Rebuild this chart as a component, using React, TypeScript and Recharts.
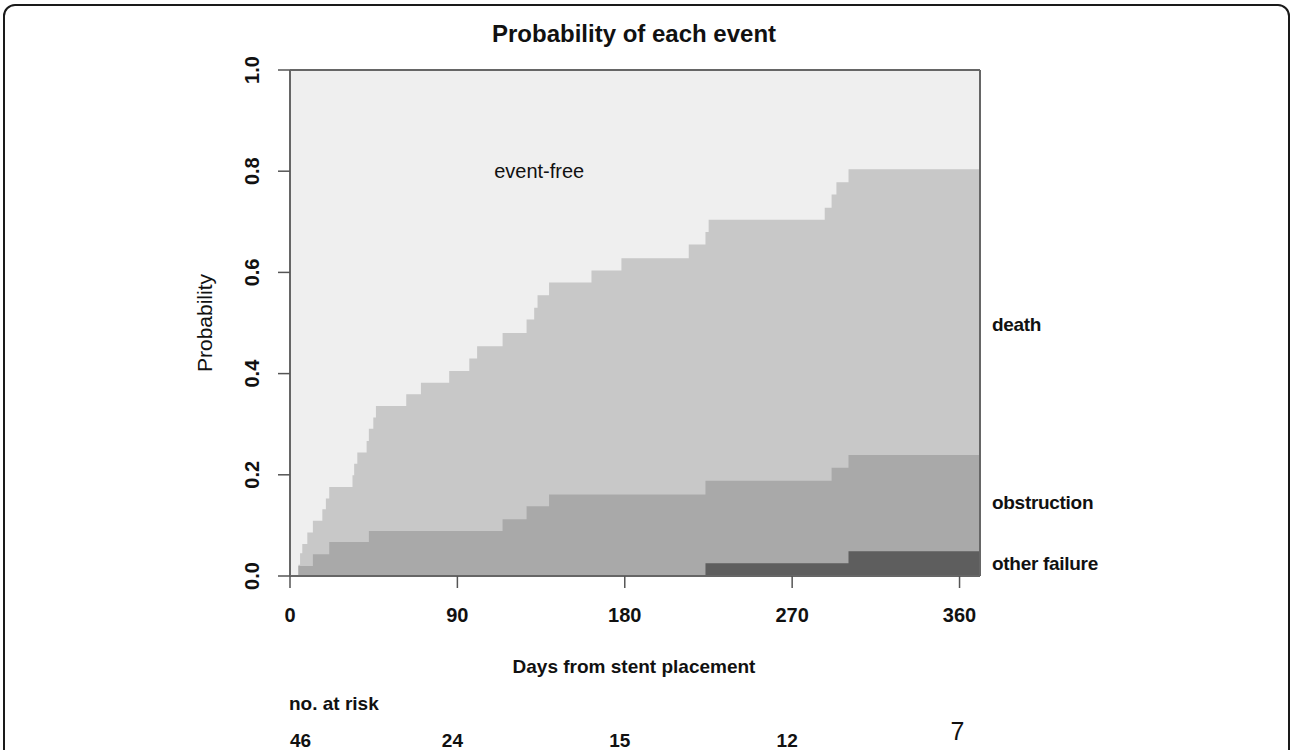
import React from 'react';
import { AreaChart, Area, XAxis, YAxis, ReferenceLine, ReferenceDot } from 'recharts';

// Stacked cumulative incidence, upper edge of each band
const otherDays = [0, 223.4, 300.3];
const otherTop = [0, 0.025, 0.049];

const obstructionDays = [0, 4.5, 12.3, 21.1, 42.4, 114.3, 127.2, 139.3, 223.4, 291.2, 300.3];
const obstructionTop = [0, 0.02, 0.043, 0.067, 0.089, 0.112, 0.138, 0.161, 0.188, 0.214, 0.239];

const deathDays = [
  0, 4.5, 5.4, 6.6, 9.3, 12.3, 17.4, 19.3, 21.1, 33.6, 34.5, 36.2, 41.2, 42.4, 44.8, 46.2, 62.5,
  70.4, 85.6, 96.4, 100.6, 114.3, 127.2, 131.3, 133.1, 139.3, 162.1, 178.2, 214.4, 223.4, 225.1,
  287.5, 291.2, 293.8, 300.3,
];
const deathTop = [
  0, 0.022, 0.045, 0.063, 0.086, 0.109, 0.132, 0.153, 0.176, 0.199, 0.222, 0.244, 0.267, 0.291,
  0.313, 0.336, 0.359, 0.382, 0.405, 0.43, 0.454, 0.48, 0.507, 0.53, 0.555, 0.58, 0.604, 0.628,
  0.655, 0.68, 0.704, 0.728, 0.754, 0.778, 0.804,
];

const dayTicks = [0, 90, 180, 270, 360];
const atRisk = [46, 24, 15, 12, 7];
const probTicks = [0, 0.2, 0.4, 0.6, 0.8, 1];
const endLabels = ['other failure', 'obstruction', 'death'];
const endLabelAt = [0.025, 0.145, 0.497];

const X_MAX = 371;
const FONT = '"Liberation Sans", Arial, Helvetica, sans-serif';
const INK = '#111';
const FRAME = '#666';

function stepValue(days: number[], vals: number[], t: number): number {
  let v = vals[0];
  for (let i = 0; i < days.length; i++) if (days[i] <= t) v = vals[i];
  return v;
}

const allDays = Array.from(new Set([...otherDays, ...obstructionDays, ...deathDays, X_MAX])).sort(
  (a, b) => a - b
);
const rows = allDays.map((day) => ({
  day,
  eventFree: 1,
  death: stepValue(deathDays, deathTop, day),
  obstruction: stepValue(obstructionDays, obstructionTop, day),
  other: stepValue(otherDays, otherTop, day),
}));

type TickProps = { x?: number; y?: number; index?: number; payload?: { value: number } };

function DayTick({ x = 0, y = 0, payload }: TickProps) {
  return (
    <text x={x} y={y + 34} textAnchor="middle" fontFamily={FONT} fontWeight={700} fontSize={20} fill={INK}>
      {payload?.value}
    </text>
  );
}

function RiskTick({ x = 0, y = 0, index = 0 }: TickProps) {
  const last = index === atRisk.length - 1;
  return (
    <text
      x={index === 0 ? x : last ? x - 2 : x - 5}
      y={last ? y + 54 : y + 61}
      textAnchor={index === 0 ? 'start' : 'middle'}
      fontFamily={FONT}
      fontWeight={last ? 400 : 700}
      fontSize={last ? 25 : 19}
      fill={INK}
    >
      {atRisk[index]}
    </text>
  );
}

function ProbTick({ x = 0, y = 0, payload }: TickProps) {
  const cx = x - 24;
  return (
    <text
      x={cx}
      y={y}
      transform={`rotate(-90, ${cx}, ${y})`}
      textAnchor="middle"
      dominantBaseline="central"
      fontFamily={FONT}
      fontWeight={700}
      fontSize={20}
      fill={INK}
    >
      {(payload?.value ?? 0).toFixed(1)}
    </text>
  );
}

const textBase: React.CSSProperties = { position: 'absolute', fontFamily: FONT, color: INK, lineHeight: 1, whiteSpace: 'nowrap' };

export default function App() {
  return (
    <div style={{ position: 'relative', width: 1290, height: 750, overflow: 'hidden', background: '#fff' }}>
      <style>{'body{margin:0}'}</style>
      {/* rounded figure frame */}
      <div
        style={{
          position: 'absolute',
          left: 3,
          top: 4,
          width: 1283,
          height: 800,
          border: '2px solid #1a1a1a',
          borderRadius: 12,
        }}
      />
      <div style={{ ...textBase, left: 634, top: 22, transform: 'translateX(-50%)', fontSize: 24, fontWeight: 700 }}>
        Probability of each event
      </div>
      <div
        style={{
          ...textBase,
          left: 204,
          top: 323,
          transform: 'translate(-50%, -50%) rotate(-90deg)',
          fontSize: 21,
        }}
      >
        Probability
      </div>
      <div style={{ ...textBase, left: 634, top: 666, transform: 'translate(-50%, -50%)', fontSize: 19, fontWeight: 700 }}>
        Days from stent placement
      </div>
      <div style={{ ...textBase, left: 289, top: 703, transform: 'translateY(-50%)', fontSize: 19, fontWeight: 700 }}>
        no. at risk
      </div>

      <div style={{ position: 'absolute', left: 0, top: 0 }}>
        <AreaChart width={1290} height={750} data={rows} margin={{ top: 70, right: 0, bottom: 0, left: 0 }}>
          <XAxis
            dataKey="day"
            type="number"
            domain={[0, X_MAX]}
            ticks={dayTicks}
            interval={0}
            allowDataOverflow
            height={110}
            tickSize={12}
            tickMargin={0}
            axisLine={{ stroke: FRAME, strokeWidth: 2 }}
            tickLine={{ stroke: '#555', strokeWidth: 1.5 }}
            tick={<DayTick />}
          />
          <XAxis
            xAxisId="risk"
            dataKey="day"
            type="number"
            domain={[0, X_MAX]}
            ticks={dayTicks}
            interval={0}
            allowDataOverflow
            height={64}
            tickSize={0}
            tickMargin={0}
            axisLine={false}
            tickLine={false}
            tick={<RiskTick />}
          />
          <YAxis
            type="number"
            domain={[0, 1]}
            ticks={probTicks}
            interval={0}
            width={290}
            tickSize={12}
            axisLine={{ stroke: FRAME, strokeWidth: 2 }}
            tickLine={{ stroke: '#555', strokeWidth: 1.5 }}
            tick={<ProbTick />}
          />
          <YAxis
            yAxisId="right"
            orientation="right"
            dataKey="eventFree"
            type="number"
            domain={[0, 1]}
            width={310}
            tick={false}
            tickLine={false}
            axisLine={{ stroke: FRAME, strokeWidth: 2 }}
          />
          <Area type="stepAfter" dataKey="eventFree" fill="#efefef" fillOpacity={1} stroke="none" isAnimationActive={false} />
          <Area type="stepAfter" dataKey="death" fill="#c8c8c8" fillOpacity={1} stroke="none" isAnimationActive={false} />
          <Area type="stepAfter" dataKey="obstruction" fill="#a9a9a9" fillOpacity={1} stroke="none" isAnimationActive={false} />
          <Area type="stepAfter" dataKey="other" fill="#5e5e5e" fillOpacity={1} stroke="none" isAnimationActive={false} />
          <ReferenceLine y={1} stroke={FRAME} strokeWidth={2} />
          <ReferenceDot
            x={134}
            y={0.8}
            r={0}
            fill="none"
            stroke="none"
            label={{ value: 'event-free', position: 'center', fontSize: 20, fontFamily: FONT, fill: INK }}
          />
          {endLabels.map((name, i) => (
            <ReferenceDot
              key={name}
              x={X_MAX}
              y={endLabelAt[i]}
              r={0}
              fill="none"
              stroke="none"
              ifOverflow="visible"
              label={{
                value: name,
                position: 'right',
                offset: 12,
                fontSize: 19,
                fontWeight: 700,
                letterSpacing: -0.3,
                fontFamily: FONT,
                fill: INK,
              }}
            />
          ))}
        </AreaChart>
      </div>
    </div>
  );
}
